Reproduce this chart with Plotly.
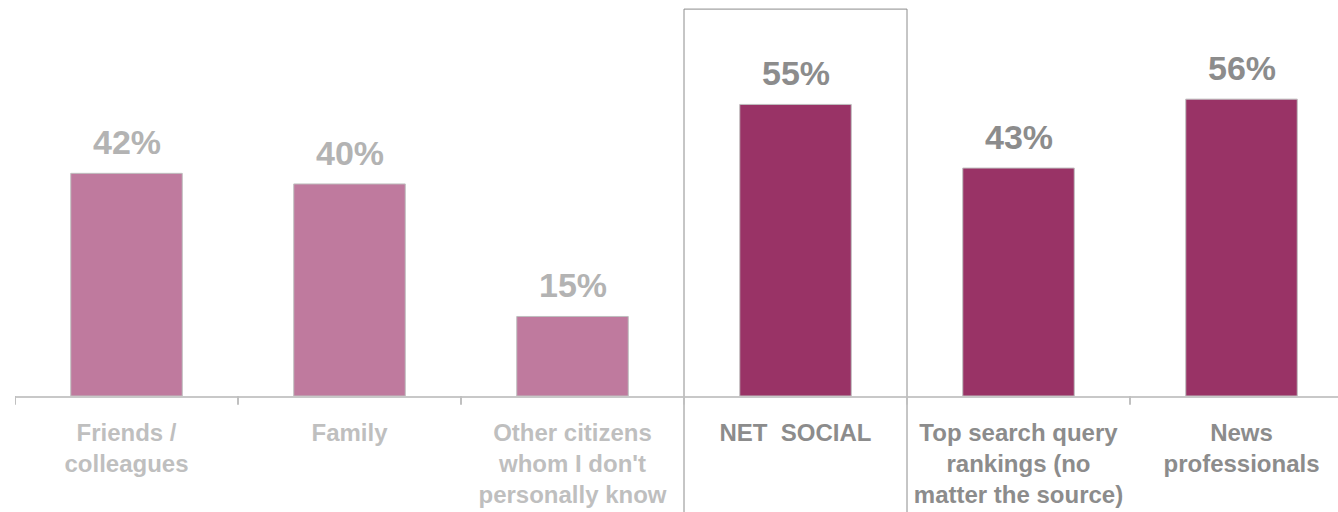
import plotly.graph_objects as go

categories = ["Friends /<br>colleagues", "Family", "Other citizens<br>whom I don't<br>personally know",
              "NET  SOCIAL", "Top search query<br>rankings (no<br>matter the source)", "News<br>professionals"]
values = [42, 40, 15, 55, 43, 56]
value_labels = ["42%", "40%", "15%", "55%", "43%", "56%"]

bar_colors = ["#bf7a9e", "#bf7a9e", "#bf7a9e", "#993366", "#993366", "#993366"]
text_colors = ["#b3b3b3", "#b3b3b3", "#b3b3b3", "#8c8c8c", "#8c8c8c", "#8c8c8c"]
label_colors = ["#bfbfbf", "#bfbfbf", "#bfbfbf", "#8c8c8c", "#8c8c8c", "#8c8c8c"]

x = list(range(len(categories)))

fig = go.Figure()
fig.add_trace(go.Bar(
    x=x, y=values, width=0.5,
    marker=dict(color=bar_colors, line=dict(color="#bfbfbf", width=1)),
    hoverinfo="skip",
))

for xi, v, t, c in zip(x, values, value_labels, text_colors):
    fig.add_annotation(x=xi, y=v, text=f"<b>{t}</b>", showarrow=False,
                       yanchor="bottom", yshift=10,
                       font=dict(family="Liberation Sans, Arial", size=34, color=c))

ticktext = [f"<span style='color:{c}'><b>{t}</b></span>" for t, c in zip(categories, label_colors)]

fig.add_shape(type="rect", xref="x", yref="paper", x0=2.5, x1=3.5, y0=-0.5, y1=0.977,
              line=dict(color="#8c8c8c", width=1), fillcolor="rgba(0,0,0,0)", layer="above")

fig.update_layout(
    width=1338, height=512,
    margin=dict(l=15, r=0, t=0, b=116),
    paper_bgcolor="white", plot_bgcolor="white",
    showlegend=False,
    font=dict(family="Liberation Sans, Arial", size=24, color="#bfbfbf"),
    xaxis=dict(
        tickmode="array", tickvals=x, ticktext=ticktext,
        range=[-0.5, 5.5 - 15 / 223],
        showline=True, linecolor="#c8c8c8", linewidth=2,
        ticks="", showgrid=False, zeroline=False,
        tickfont=dict(size=24),
        ticklabelstandoff=14,
    ),
    yaxis=dict(range=[0, 74.7], visible=False, showgrid=False, zeroline=False),
)

# boundary tick marks
for b in [-0.5, 0.5, 1.5, 2.5, 3.5, 4.5]:
    fig.add_shape(type="line", xref="x", yref="paper", x0=b, x1=b, y0=0, y1=-0.022,
                  line=dict(color="#c0c0c0", width=2))

fig.write_html("out.html")
